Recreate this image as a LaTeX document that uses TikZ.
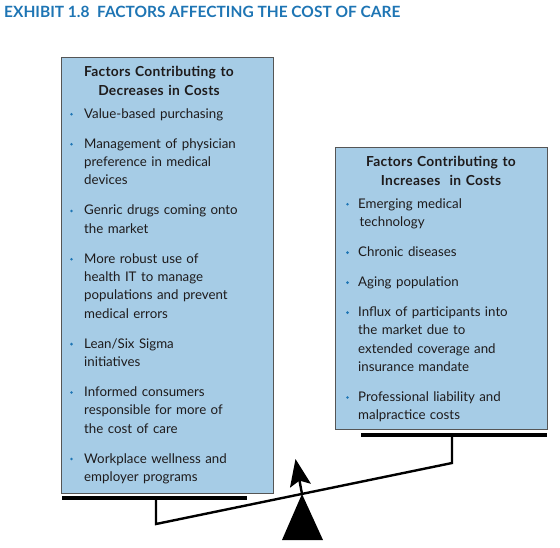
\documentclass[tikz,border=0pt]{standalone}
\usepackage{fontspec}
\setmainfont{Lato}
\usetikzlibrary{arrows.meta}
\definecolor{titleblue}{RGB}{30,117,180}
\definecolor{boxblue}{RGB}{166,204,230}
\definecolor{boxedge}{RGB}{85,85,85}
\definecolor{ink}{RGB}{30,27,28}
\begin{document}
\begin{tikzpicture}[x=1pt,y=-1pt,
  panel/.style={draw=boxedge,line width=1.2pt,fill=boxblue,inner sep=0pt,anchor=north west},
  head/.style={font=\fontsize{13.8}{18.3}\selectfont\bfseries\addfontfeatures{LetterSpace=2},align=center,anchor=base,inner sep=0pt,text width=200pt,text=ink},
  item/.style={font=\fontsize{13.3}{18.3}\selectfont,align=left,anchor=base west,inner sep=0pt,text width=185pt,text=ink},
  dot/.style={circle,fill=titleblue,inner sep=0pt,minimum size=2.8pt},
  pan/.style={line width=3.2pt},
  lever/.style={line width=2.4pt},
]
\useasboundingbox (0,0) rectangle (560,547);
% title
\node[anchor=base west,inner sep=0pt,font=\fontsize{15.5}{18}\selectfont\bfseries,text=titleblue] (title) at (4,17.3) {EXHIBIT 1.8\ \ FACTORS AFFECTING THE COST OF CARE};
% panels
\node[panel,minimum width=212pt,minimum height=436pt] (L) at (61,57) {};
\node[panel,minimum width=212pt,minimum height=282pt] (R) at (335,147) {};
% left header and items
\node[head] (lh) at (159,76.7) {Factors Contributing to\\Decreases in Costs};
\node[item] (l1) at (84,118.3) {Value-based purchasing};
\node[item] (l2) at (84,148.3) {Management of physician\\preference in medical\\devices};
\node[item] (l3) at (84,214.9) {Genric drugs coming onto\\the market};
\node[item] (l4) at (84,263.2) {More robust use of\\health IT to manage\\populations and prevent\\medical errors};
\node[item] (l5) at (84,348.1) {Lean/Six Sigma\\initiatives};
\node[item] (l6) at (84,396.4) {Informed consumers\\responsible for more of\\the cost of care};
\node[item] (l7) at (84,463.0) {Workplace wellness and\\employer programs};
\foreach \y [count=\i] in {118.3,148.3,214.9,263.2,348.1,396.4,463.0}
  \node[dot] (ld\i) at (71.5,\y-4) {};
% right header and items
\node[head] (rh) at (441,166.7) {Factors Contributing to\\Increases\ \ in Costs};
\node[item] (r1) at (358,208.3) {Emerging medical\\\hspace*{1.5pt}technology};
\node[item] (r2) at (358,256.6) {Chronic diseases};
\node[item] (r3) at (358,286.6) {Aging population};
\node[item] (r4) at (358,316.6) {Influx of participants into\\the market due to\\extended coverage and\\insurance mandate};
\node[item] (r5) at (358,401.5) {Professional liability and\\malpractice costs};
\foreach \y [count=\i] in {208.3,256.6,286.6,316.6,401.5}
  \node[dot] (rd\i) at (347.5,\y-4) {};
% balance
\coordinate (lpL) at (62,498);
\coordinate (lpR) at (247,498);
\coordinate (lstem) at (156,498);
\coordinate (lend) at (156,524);
\coordinate (rpL) at (361,435);
\coordinate (rpR) at (547,435);
\coordinate (rstem) at (452,435);
\coordinate (rend) at (452,463);
\coordinate (pivot) at (302,494);
\coordinate (tip) at (295.5,459);
\draw[pan] (lpL) -- (lpR);
\draw[pan] (rpL) -- (rpR);
\draw[lever,line join=miter] (lstem) -- (lend) -- (rend) -- (rstem);
\fill (pivot) -- (323,540) -- (282,540) -- cycle;
\draw[line width=2.4pt,-{Stealth[length=27pt,width=21pt,inset=5pt]}] (pivot) -- (tip);
\end{tikzpicture}
\end{document}
